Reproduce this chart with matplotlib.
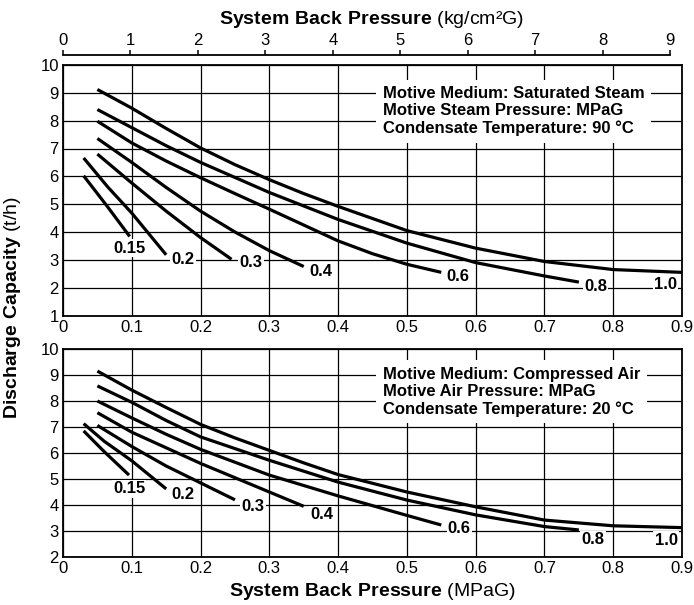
import matplotlib.pyplot as plt

plt.rcParams['font.family'] = ['Liberation Sans', 'DejaVu Sans']
plt.rcParams['mathtext.fontset'] = 'custom'
plt.rcParams['mathtext.rm'] = 'Liberation Sans'
plt.rcParams['mathtext.bf'] = 'Liberation Sans:bold'

# axis ticks
x_ticks = [0, 0.1, 0.2, 0.3, 0.4, 0.5, 0.6, 0.7, 0.8, 0.9]
x_tick_labels = ["0", "0.1", "0.2", "0.3", "0.4", "0.5", "0.6", "0.7", "0.8", "0.9"]
kg_ticks = [0, 1, 2, 3, 4, 5, 6, 7, 8, 9]
KG_TO_MPA = 0.0980665

# --- saturated steam (upper chart), motive pressure in MPaG ---
steam_015_x = [0.03, 0.065, 0.097]
steam_015_y = [6.02, 4.90, 3.84]
steam_02_x = [0.03, 0.065, 0.10, 0.15]
steam_02_y = [6.66, 5.62, 4.68, 3.18]
steam_03_x = [0.05, 0.10, 0.15, 0.20, 0.245]
steam_03_y = [6.80, 5.76, 4.75, 3.80, 3.02]
steam_04_x = [0.05, 0.10, 0.15, 0.20, 0.25, 0.30, 0.35]
steam_04_y = [7.36, 6.50, 5.60, 4.75, 4.00, 3.33, 2.76]
steam_06_x = [0.05, 0.10, 0.15, 0.20, 0.25, 0.30, 0.35, 0.40, 0.45, 0.50, 0.55]
steam_06_y = [7.98, 7.20, 6.55, 5.95, 5.38, 4.82, 4.25, 3.68, 3.22, 2.84, 2.55]
steam_08_x = [0.05, 0.10, 0.15, 0.20, 0.30, 0.40, 0.50, 0.60, 0.70, 0.75]
steam_08_y = [8.40, 7.75, 7.10, 6.50, 5.42, 4.45, 3.60, 2.90, 2.42, 2.20]
steam_10_x = [0.05, 0.10, 0.15, 0.20, 0.25, 0.30, 0.35, 0.40, 0.50, 0.60, 0.70, 0.80, 0.90]
steam_10_y = [9.12, 8.45, 7.72, 7.02, 6.42, 5.88, 5.38, 4.92, 4.05, 3.42, 2.94, 2.65, 2.55]

# --- compressed air (lower chart), motive pressure in MPaG ---
air_015_x = [0.03, 0.06, 0.096]
air_015_y = [6.85, 6.05, 5.15]
air_02_x = [0.03, 0.06, 0.10, 0.15]
air_02_y = [7.13, 6.45, 5.70, 4.62]
air_03_x = [0.05, 0.10, 0.15, 0.20, 0.25]
air_03_y = [7.06, 6.25, 5.50, 4.85, 4.20]
air_04_x = [0.05, 0.10, 0.15, 0.20, 0.25, 0.30, 0.35]
air_04_y = [7.55, 6.80, 6.20, 5.60, 5.05, 4.50, 3.95]
air_06_x = [0.05, 0.10, 0.15, 0.20, 0.30, 0.40, 0.50, 0.55]
air_06_y = [8.00, 7.35, 6.72, 6.14, 5.15, 4.35, 3.60, 3.23]
air_08_x = [0.05, 0.10, 0.15, 0.20, 0.30, 0.40, 0.50, 0.60, 0.70, 0.75]
air_08_y = [8.58, 7.95, 7.25, 6.62, 5.72, 4.88, 4.19, 3.62, 3.17, 3.04]
air_10_x = [0.05, 0.10, 0.15, 0.20, 0.25, 0.30, 0.35, 0.40, 0.50, 0.60, 0.70, 0.80, 0.90]
air_10_y = [9.15, 8.42, 7.75, 7.10, 6.58, 6.10, 5.62, 5.17, 4.50, 3.93, 3.42, 3.20, 3.13]

curve_labels = ["0.15", "0.2", "0.3", "0.4", "0.6", "0.8", "1.0"]

steam_note = ("Motive Medium: Saturated Steam\n"
              "Motive Steam Pressure: MPaG\n"
              "Condensate Temperature: 90 \u00b0C")
air_note = ("Motive Medium: Compressed Air\n"
            "Motive Air Pressure: MPaG\n"
            "Condensate Temperature: 20 \u00b0C")

# label offsets from the curve end, in points
steam_offsets = [(0, -8.5), (12, -3.5), (14, -2.5), (12, -3.5), (12, -3), (12, -3), (-12, -9)]
air_offsets = [(0, -10), (12, -4), (13, -5), (13, -6), (13, -2.5), (10, -7), (-11.5, -9)]


def draw_panel(ax, curves, offsets, ymin, note):
    ax.set_xlim(0, 0.9)
    ax.set_ylim(ymin, 10)
    ax.set_xticks(x_ticks)
    ax.set_xticklabels(x_tick_labels)
    ax.set_yticks(range(ymin, 11))
    ax.grid(True, color='black', linewidth=0.9)
    ax.set_axisbelow(True)
    ax.tick_params(length=0, labelsize=12, pad=3)
    for spine in ax.spines.values():
        spine.set_linewidth(1.3)

    for label, (xs, ys), off in zip(curve_labels, curves, offsets):
        ax.plot(xs, ys, color='black', linewidth=2.3, solid_capstyle='butt', zorder=3)
        ax.annotate(label, (xs[-1], ys[-1]), xytext=off, textcoords='offset points',
                    ha='center', va='center', fontsize=12, fontweight='bold',
                    bbox=dict(facecolor='white', edgecolor='none', pad=1), zorder=4)

    ax.text(0.517, 0.915, note, transform=ax.transAxes, ha='left', va='top',
            fontsize=12, fontweight='bold', linespacing=1.18,
            bbox=dict(boxstyle='square,pad=0.4', facecolor='white', edgecolor='none'),
            zorder=4)


fig = plt.figure(figsize=(6.94, 6.05), dpi=100)
ax_top = fig.add_axes([63 / 694, 1 - 315.5 / 605, 619 / 694, 250.5 / 605])
ax_bot = fig.add_axes([63 / 694, 1 - 557 / 605, 619 / 694, 208 / 605])

steam_curves = [(steam_015_x, steam_015_y), (steam_02_x, steam_02_y), (steam_03_x, steam_03_y),
                (steam_04_x, steam_04_y), (steam_06_x, steam_06_y), (steam_08_x, steam_08_y),
                (steam_10_x, steam_10_y)]
air_curves = [(air_015_x, air_015_y), (air_02_x, air_02_y), (air_03_x, air_03_y),
              (air_04_x, air_04_y), (air_06_x, air_06_y), (air_08_x, air_08_y),
              (air_10_x, air_10_y)]

draw_panel(ax_top, steam_curves, steam_offsets, 1, steam_note)
draw_panel(ax_bot, air_curves, air_offsets, 2, air_note)

# kg/cm2G scale above the upper chart
ax_kg = ax_top.twiny()
ax_kg.set_xlim(0, 0.9)
ax_kg.set_xticks([k * KG_TO_MPA for k in kg_ticks])
ax_kg.set_xticklabels([str(k) for k in kg_ticks])
ax_kg.spines['top'].set_position(('outward', 7))
ax_kg.spines['top'].set_bounds(0, kg_ticks[-1] * KG_TO_MPA)
ax_kg.spines['top'].set_linewidth(1.3)
for side in ['left', 'right', 'bottom']:
    ax_kg.spines[side].set_visible(False)
ax_kg.patch.set_visible(False)
ax_kg.tick_params(axis='x', direction='out', length=3.5, width=1.1, labelsize=12, pad=1.5)

fig.text(372 / 694, 1 - 19 / 605, r"$\mathbf{System\ Back\ Pressure}$ (kg/cm²G)",
         ha='center', va='center', fontsize=14)
fig.text(372 / 694, 1 - 591 / 605, r"$\mathbf{System\ Back\ Pressure}$ (MPaG)",
         ha='center', va='center', fontsize=14)
fig.text(13 / 694, 1 - 308 / 605, r"$\mathbf{Discharge\ Capacity}$ (t/h)",
         ha='center', va='center', rotation=90, fontsize=14)

fig.savefig("out.png", dpi=100, facecolor='white')
